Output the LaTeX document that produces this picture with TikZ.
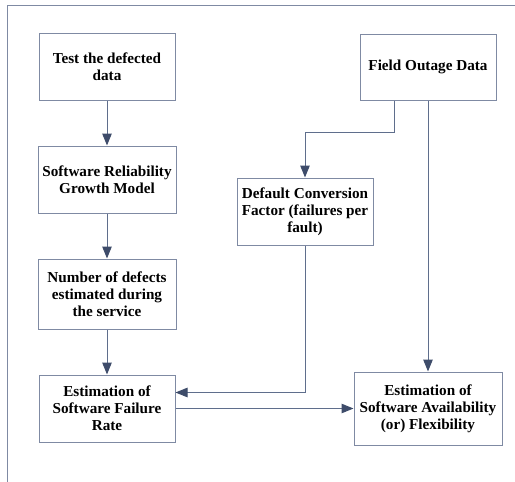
\documentclass[tikz,border=0pt]{standalone}
\usepackage{fontspec}
\setmainfont{Liberation Serif}
\usetikzlibrary{arrows.meta}
\definecolor{boxline}{HTML}{7F8AA3}
\definecolor{conn}{HTML}{5F6E8C}
\definecolor{tip}{HTML}{3E4C6A}
\tikzset{
  blk/.style={draw=boxline, line width=1pt, rectangle, align=center,
    font=\bfseries\fontsize{15.2}{17}\selectfont, inner sep=2pt},
  conn/.style={draw=conn, line width=1pt,
    -{Triangle[length=12pt,width=9.5pt,color=tip]}},
  frame/.style={draw=boxline, line width=1pt}
}
\begin{document}
\begin{tikzpicture}[x=1pt,y=-1pt]
\useasboundingbox (0,0) rectangle (515,482);
\draw[frame] (515,5) -- (7,5) -- (7,482);
\node[blk, minimum width=136pt, minimum height=67pt] (b1) at (107,66.5) {Test the defected\\data};
\node[blk, minimum width=138pt, minimum height=67pt] (b2) at (107,179.5) {Software Reliability\\Growth Model};
\node[blk, minimum width=138pt, minimum height=70pt] (b3) at (107,294) {Number of defects\\estimated during\\the service};
\node[blk, minimum width=136pt, minimum height=67pt] (b4) at (107,408.5) {Estimation of\\Software Failure\\Rate};
\node[blk, minimum width=136pt, minimum height=66pt] (b5) at (428,67) {Field Outage Data};
\node[blk, minimum width=136pt, minimum height=67pt] (b6) at (305,211.5) {Default Conversion\\Factor (failures per\\fault)};
\node[blk, minimum width=148pt, minimum height=73pt] (b7) at (428,408.5) {Estimation of\\Software Availability\\(or) Flexibility};
\draw[conn] (b1) -- (b2);
\draw[conn] (b2) -- (b3);
\draw[conn] (b3) -- (b4);
\draw[conn] ([xshift=-34pt]b5.south) -- ++(0,32) -| (b6.north);
\draw[conn] (b5.south) -- (b7.north);
\draw[conn] (b6.south) |- ([yshift=16pt]b4.east);
\draw[conn] (b4.east) -- (b4.east -| b7.west);
\end{tikzpicture}
\end{document}
